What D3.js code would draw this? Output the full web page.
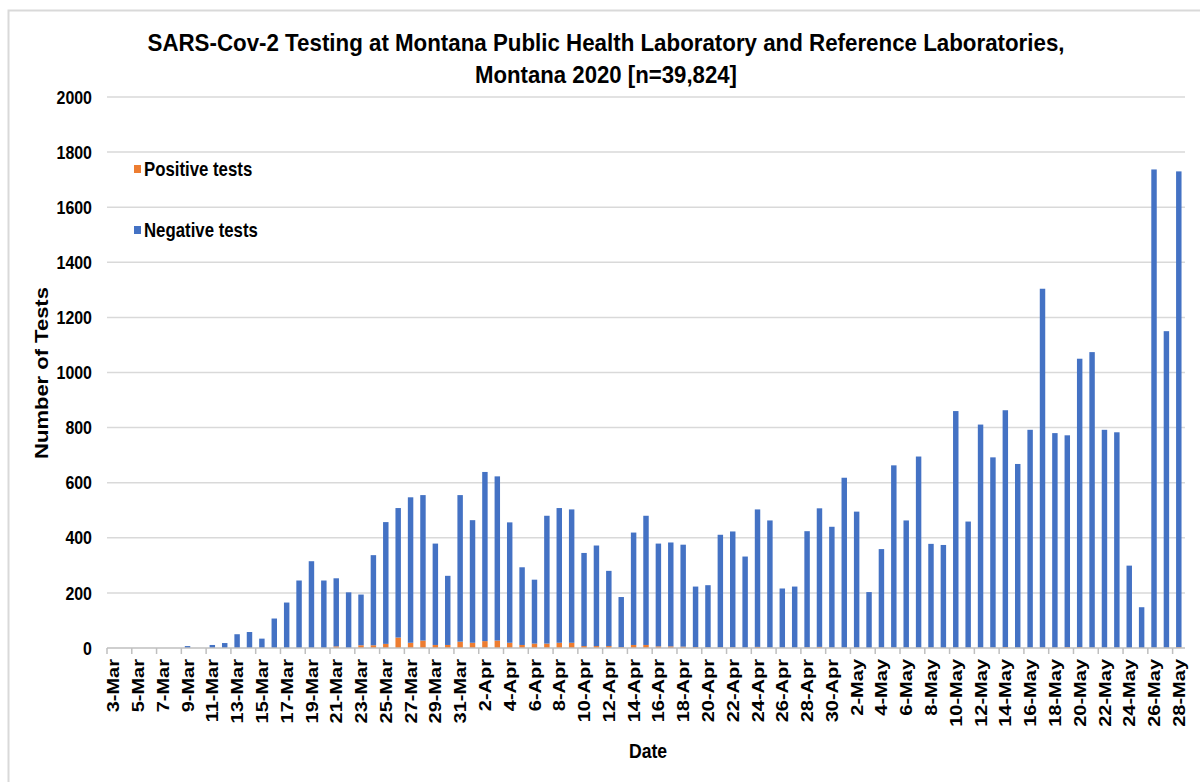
<!DOCTYPE html>
<html lang="en">
<head>
<meta charset="utf-8">
<title>SARS-Cov-2 Testing, Montana 2020</title>
<style>
  html, body { margin: 0; padding: 0; background: #fff; }
  svg text { font-family: "Liberation Sans", Arial, sans-serif; font-weight: bold; fill: #000; }
</style>
</head>
<body>
<div id="chart"></div>
<script src="https://cdn.jsdelivr.net/npm/d3@7/dist/d3.min.js"></script>
<script>
// daily labels, 3-Mar .. 28-May
const dates = [
  "3-Mar","4-Mar","5-Mar","6-Mar","7-Mar","8-Mar","9-Mar","10-Mar","11-Mar","12-Mar",
  "13-Mar","14-Mar","15-Mar","16-Mar","17-Mar","18-Mar","19-Mar","20-Mar","21-Mar","22-Mar",
  "23-Mar","24-Mar","25-Mar","26-Mar","27-Mar","28-Mar","29-Mar","30-Mar","31-Mar",
  "1-Apr","2-Apr","3-Apr","4-Apr","5-Apr","6-Apr","7-Apr","8-Apr","9-Apr","10-Apr",
  "11-Apr","12-Apr","13-Apr","14-Apr","15-Apr","16-Apr","17-Apr","18-Apr","19-Apr","20-Apr",
  "21-Apr","22-Apr","23-Apr","24-Apr","25-Apr","26-Apr","27-Apr","28-Apr","29-Apr","30-Apr",
  "1-May","2-May","3-May","4-May","5-May","6-May","7-May","8-May","9-May","10-May",
  "11-May","12-May","13-May","14-May","15-May","16-May","17-May","18-May","19-May","20-May",
  "21-May","22-May","23-May","24-May","25-May","26-May","27-May","28-May"
];

const positive = [
  0,0,0,0,0,0,0,0,0,0,
  0,0,0,0,0,0,0,0,6,0,
  10,10,15,38,19,27,11,11,23,
  19,25,27,19,11,16,16,19,19,7,
  7,7,3,11,11,6,6,5,3,2,
  2,2,1,4,1,1,1,2,4,1,
  1,1,0,1,1,1,1,1,0,1,
  1,1,1,3,1,1,1,1,3,3,
  1,1,1,0,0,1,1,3
];

const negative = [
  0,0,0,0,0,0,7,0,11,18,
  50,58,34,107,165,245,315,245,247,202,
  184,327,442,470,528,528,368,251,532,
  445,614,596,437,282,232,464,489,484,338,
  365,273,182,408,469,373,377,370,220,226,
  409,421,331,499,462,215,222,422,503,439,
  617,494,203,358,662,462,694,377,374,859,
  458,810,691,860,667,791,1303,779,769,1047,
  1073,791,782,299,148,1736,1149,1727
];

const yTicks = [0, 200, 400, 600, 800, 1000, 1200, 1400, 1600, 1800, 2000];
const seriesNames = ["Positive tests", "Negative tests"];
const seriesColors = ["#ED7D31", "#4472C4"];

const drawChart = () => {
  const width = 1200, height = 782;
  const left = 107, right = 1185, top = 97, bottom = 648;
  const squeeze = 0.84;  // source image is horizontally condensed

  const svg = d3.select("#chart").append("svg")
      .attr("width", width)
      .attr("height", height);

  // outer chart border
  svg.append("rect")
      .attr("x", 8.5).attr("y", 10.5)
      .attr("width", 1200).attr("height", 800)
      .attr("fill", "none")
      .attr("stroke", "#d9d9d9")
      .attr("stroke-width", 2);

  const x = d3.scaleBand()
      .domain(dates)
      .range([left, right])
      .paddingInner(0.56)
      .paddingOuter(0.28);

  const y = d3.scaleLinear()
      .domain([0, 2000])
      .range([bottom, top]);

  // gridlines
  svg.append("g")
      .selectAll("line")
      .data(yTicks.filter(d => d > 0))
      .join("line")
      .attr("x1", left).attr("x2", right)
      .attr("y1", d => y(d)).attr("y2", d => y(d))
      .attr("stroke", "#d9d9d9")
      .attr("stroke-width", 1.5);

  // y tick labels
  svg.append("g")
      .selectAll("text")
      .data(yTicks)
      .join("text")
      .attr("transform", d => `translate(92,${y(d)}) scale(${squeeze},1)`)
      .attr("dy", "0.35em")
      .attr("text-anchor", "end")
      .style("font-size", "19px")
      .text(d => d);

  // stacked bars
  const rows = dates.map((d, i) => ({date: d, pos: positive[i], neg: negative[i]}));
  const stack = d3.stack().keys(["pos", "neg"])(rows);

  svg.append("g")
      .selectAll("g")
      .data(stack)
      .join("g")
      .attr("fill", (s, i) => seriesColors[i])
      .selectAll("rect")
      .data(s => s)
      .join("rect")
      .attr("x", d => x(d.data.date))
      .attr("width", x.bandwidth())
      .attr("y", d => y(d[1]))
      .attr("height", d => y(d[0]) - y(d[1]));

  // x axis line + ticks every 2 days
  svg.append("line")
      .attr("x1", left).attr("x2", right)
      .attr("y1", bottom).attr("y2", bottom)
      .attr("stroke", "#bfbfbf")
      .attr("stroke-width", 1.5);

  const boundary = d => x(d) - x.step() * x.paddingInner() / 2;
  const labelled = dates.filter((d, i) => i % 2 === 0);

  svg.append("g")
      .selectAll("line")
      .data(labelled)
      .join("line")
      .attr("x1", d => boundary(d)).attr("x2", d => boundary(d))
      .attr("y1", bottom).attr("y2", bottom + 6)
      .attr("stroke", "#bfbfbf")
      .attr("stroke-width", 1.5);

  svg.append("g")
      .selectAll("text")
      .data(labelled)
      .join("text")
      .attr("transform", d => `translate(${x(d) + x.bandwidth() / 2},659) scale(${squeeze},1) rotate(-90)`)
      .attr("dy", "0.36em")
      .attr("text-anchor", "end")
      .style("font-size", "20px")
      .text(d => d);

  // titles
  const title = svg.append("g").style("font-size", "24px").attr("text-anchor", "middle");
  title.append("text")
      .attr("x", 606).attr("y", 51)
      .attr("textLength", 917).attr("lengthAdjust", "spacingAndGlyphs")
      .text("SARS-Cov-2 Testing at Montana Public Health Laboratory and Reference Laboratories,");
  title.append("text")
      .attr("x", 606).attr("y", 83)
      .attr("textLength", 262).attr("lengthAdjust", "spacingAndGlyphs")
      .text("Montana 2020 [n=39,824]");

  svg.append("text")
      .attr("transform", `translate(48,373) scale(${squeeze},1) rotate(-90)`)
      .attr("text-anchor", "middle")
      .style("font-size", "22px")
      .text("Number of Tests");

  svg.append("text")
      .attr("transform", `translate(648,758) scale(${squeeze},1)`)
      .attr("text-anchor", "middle")
      .style("font-size", "21px")
      .text("Date");

  // legend
  const legendY = [169, 230];
  const legend = svg.append("g")
      .selectAll("g")
      .data(seriesNames)
      .join("g")
      .attr("transform", (d, i) => `translate(134,${legendY[i]})`);
  legend.append("rect")
      .attr("x", 0).attr("y", -4)
      .attr("width", 7).attr("height", 8)
      .attr("fill", (d, i) => seriesColors[i]);
  legend.append("text")
      .attr("transform", `translate(10,0) scale(${squeeze},1)`)
      .attr("dy", "0.35em")
      .style("font-size", "20px")
      .text(d => d);
};

drawChart();
</script>
</body>
</html>
